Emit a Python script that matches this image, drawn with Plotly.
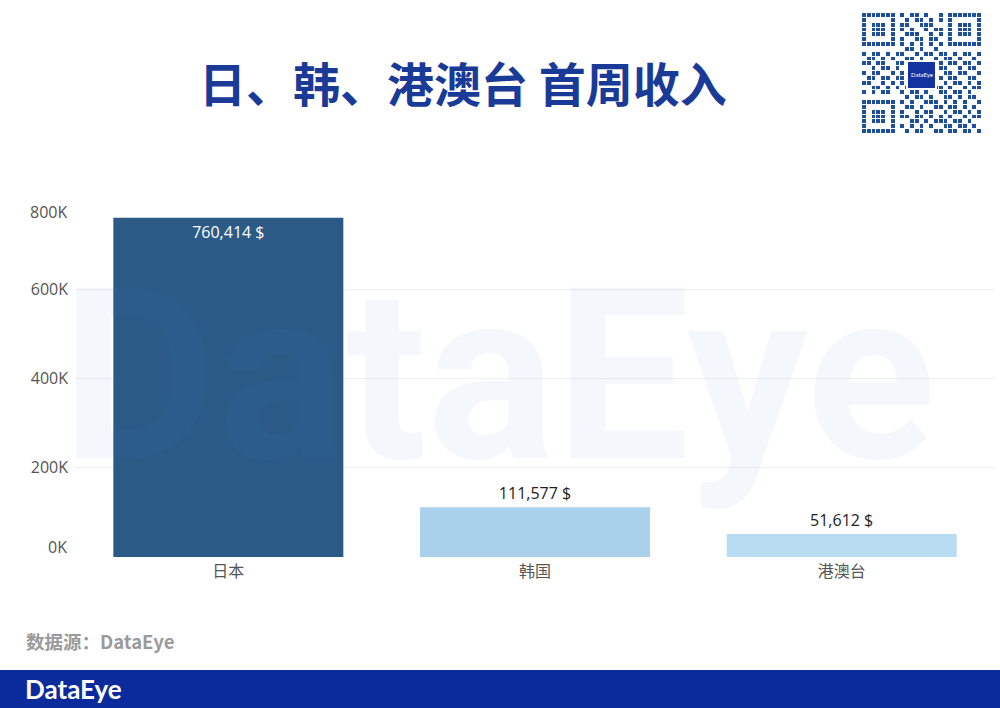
import plotly.graph_objects as go

# ---------------- data ----------------
categories = ["日本", "韩国", "港澳台"]
revenue = [760414, 111577, 51612]
bar_colors = ["#2b5a86", "#a9d1eb", "#b8dcf2"]
label_colors = ["#ffffff", "#222222", "#222222"]
label_positions = ["inside", "outside", "outside"]
y_tickvals = [0, 200000, 400000, 600000, 800000]
y_ticktext = ["", "200K", "400K", "600K", ""]

# decorative QR-like pattern (static)
qr_rows = [
    "0000000010110100100000000",
    "0000000001011010100000000",
    "0000000011001110000000000",
    "0000000010100101100000000",
    "0000000001110010100000000",
    "0000000010011011000000000",
    "0000000010101010100000000",
    "0000000001101001000000000",
    "1011010110010110110101101",
    "0110101001101001011010010",
    "1101100110000000101101101",
    "0010110100000000110010110",
    "1011001010000000011011001",
    "0110110110000000101100110",
    "1100101010000000010110101",
    "0011010101101011101001011",
    "1010110010110100110110100",
    "0000000001011010011010110",
    "0000000010100111010101001",
    "0000000001101001101101010",
    "0000000010010110010110101",
    "0000000011011010101001011",
    "0000000000110101110110100",
    "0000000010101010011011010",
    "0000000001011001101101101",
]

W, H = 1000, 708
def px(x):
    return x / W
def py(y):
    return 1 - y / H

# build QR matrix
N = 25
qr = [[int(c) for c in r.ljust(N, "0")[:N]] for r in qr_rows]
def finder(r0, c0):
    for i in range(-1, 8):
        for j in range(-1, 8):
            r, c = r0 + i, c0 + j
            if 0 <= r < N and 0 <= c < N:
                qr[r][c] = 0
    for i in range(7):
        for j in range(7):
            ring = (i in (0, 6)) or (j in (0, 6))
            inner = 2 <= i <= 4 and 2 <= j <= 4
            qr[r0 + i][c0 + j] = 1 if (ring or inner) else 0
finder(0, 0)
finder(0, N - 7)
finder(N - 7, 0)

fig = go.Figure()

fig.add_trace(go.Bar(
    x=categories,
    y=revenue,
    marker=dict(color=bar_colors, line=dict(width=0)),
    texttemplate="%{y:,} $",
    textposition=label_positions,
    insidetextanchor="end",
    textfont=dict(color=label_colors, size=16, family="Open Sans"),
    cliponaxis=False,
    hoverinfo="skip",
))

fig.add_trace(go.Heatmap(
    z=qr,
    xaxis="x2",
    yaxis="y2",
    colorscale=[[0, "#ffffff"], [1, "#1d4f9c"]],
    showscale=False,
    xgap=1,
    ygap=1,
    hoverinfo="skip",
))

tick_font = dict(family="Open Sans", size=16, color="#555555")

annotations = [
    # title
    dict(text="<b>日、韩、港澳台 首周收入</b>", x=px(463), y=py(82), xref="paper", yref="paper",
         showarrow=False, xanchor="center", yanchor="middle",
         font=dict(family="Noto Sans CJK SC", size=47, color="#1a3a97")),
    # end tick labels (shifted inward like the original)
    dict(text="800K", x=px(69), y=py(212), xref="paper", yref="paper", showarrow=False,
         xanchor="right", yanchor="middle", font=tick_font),
    dict(text="0K", x=px(69), y=py(547), xref="paper", yref="paper", showarrow=False,
         xanchor="right", yanchor="middle", font=tick_font),
    # source
    dict(text="<b>数据源：DataEye</b>", x=px(24), y=py(641), xref="paper", yref="paper",
         showarrow=False, xanchor="left", yanchor="middle",
         font=dict(family="Noto Sans CJK SC", size=18.5, color="#9a9a9a")),
    # footer logo
    dict(text="<b>DataEye</b>", x=px(23), y=py(689), xref="paper", yref="paper",
         showarrow=False, xanchor="left", yanchor="middle",
         font=dict(family="Lato", size=26, color="#ffffff")),
    # QR center logo text
    dict(text="DataEye", x=px(921.5), y=py(75), xref="paper", yref="paper",
         showarrow=False, xanchor="center", yanchor="middle",
         font=dict(family="Lato", size=6, color="#ffffff")),
    # watermark
    dict(text="<b>DataEye</b>", x=px(498), y=py(376), xref="paper", yref="paper",
         showarrow=False, xanchor="center", yanchor="middle",
         font=dict(family="Roboto", size=240, color="rgba(60,140,220,0.06)")),
]

shapes = [
    # footer band
    dict(type="rect", xref="paper", yref="paper", x0=0, x1=1, y0=0, y1=py(670),
         fillcolor="#0b2b9c", line=dict(width=0), layer="below"),
    # QR centre logo box
    dict(type="rect", xref="paper", yref="paper", x0=px(907), x1=px(936), y0=py(89), y1=py(61),
         fillcolor="#1432a0", line=dict(color="#ffffff", width=2)),
]

fig.update_layout(
    width=W,
    height=H,
    margin=dict(l=0, r=0, t=0, b=0),
    paper_bgcolor="#ffffff",
    plot_bgcolor="rgba(0,0,0,0)",
    showlegend=False,
    bargap=0.25,
    annotations=annotations,
    shapes=shapes,
    xaxis=dict(
        domain=[px(75), px(995)],
        showgrid=False, zeroline=False, showline=False,
        tickfont=dict(family="Noto Sans CJK SC", size=16, color="#555555"),
        ticks="", ticklabelstandoff=3,
        fixedrange=True,
    ),
    yaxis=dict(
        domain=[py(557), py(200)],
        range=[0, 800000],
        tickvals=y_tickvals,
        ticktext=y_ticktext,
        showgrid=True, gridcolor="#f0f0f0", gridwidth=1,
        zeroline=False, showline=False, ticks="",
        tickfont=tick_font,
        ticklabelstandoff=6,
        fixedrange=True,
    ),
    xaxis2=dict(domain=[px(862), px(982)], anchor="y2", visible=False, fixedrange=True),
    yaxis2=dict(domain=[py(134), py(13)], anchor="x2", visible=False, autorange="reversed",
                fixedrange=True),
)

fig.write_html("out.html", config={"displayModeBar": False},
               post_script="document.body.style.margin='0px';")
